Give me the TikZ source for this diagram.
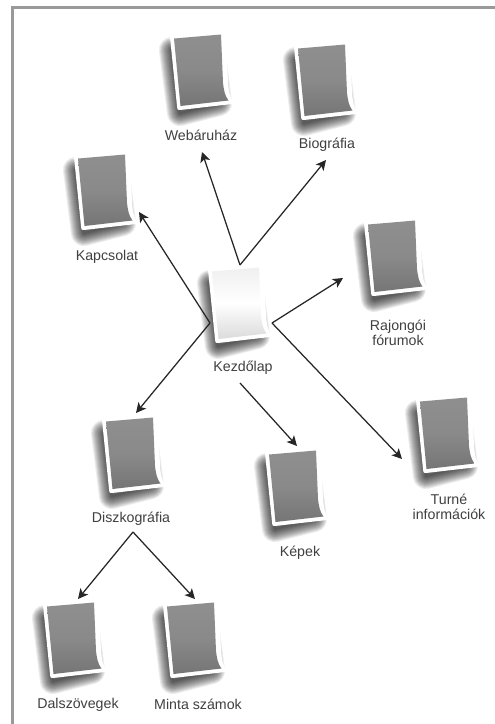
\documentclass[tikz,border=0pt]{standalone}
\usepackage{fontspec}
\setmainfont{Liberation Sans}
\usetikzlibrary{arrows.meta}
\definecolor{framegray}{HTML}{999999}
\definecolor{inkgray}{HTML}{404040}
\definecolor{linegray}{HTML}{262626}
\tikzset{
  x=1pt,y=-1pt,
  pagelabel/.style={font=\fontsize{14.2}{14.6}\selectfont,text=inkgray,align=center,inner sep=0pt},
  link/.style={draw=linegray,line width=1.25pt,-{Stealth[length=10pt,width=10pt,inset=2.5pt]}},
  pagebox/.style={minimum width=60pt,minimum height=76pt,inner sep=0pt},
}
\newcommand{\outerpath}{(1,0) -- (54,-4) .. controls (56,-4) and (56,-3) .. (56,-2) -- (58,48) .. controls (59,58) and (60,62) .. (63,67) .. controls (63.5,68) and (63,69) .. (62,69) -- (10,75) .. controls (8,75.3) and (7.4,74.5) .. (7.2,73) -- (0,2) .. controls (-0.2,0.5) and (0,0) .. (1,0) -- cycle}
\newcommand{\innerpath}{(4,3.5) -- (51,-0.5) -- (53,48) .. controls (54,56) and (55,61) .. (58.5,65.5) -- (10.5,71) -- cycle}
\newcommand{\pageshadow}[2]{%
  \begin{scope}[shift={(#1,#2)}]
    \foreach \w in {26,24,...,2}{
      \draw[black,draw opacity=0.075,line width=\w pt,line join=round]
        (4,13) -- (44,11) -- (51,66) -- (12,76) -- cycle;
    }
  \end{scope}}
\newcommand{\docpage}[3]{% name, x, y
  \pageshadow{#2-2}{#3+2}
  \begin{scope}[shift={(#2,#3)}]
    \fill[white] \outerpath;
    \shade[shading angle=200,top color=black!44,bottom color=black!54,middle color=black!46] \innerpath;
  \end{scope}
  \node[pagebox] (#1) at (#2+30,#3+36) {};}
\newcommand{\homepage}[3]{% name, x, y
  \pageshadow{#2-2}{#3+2}
  \begin{scope}[shift={(#2,#3)}]
    \fill[white] \outerpath;
    \shade[shading angle=190,top color=black!6,bottom color=black!14,middle color=white] \innerpath;
  \end{scope}
  \node[pagebox] (#1) at (#2+30,#3+36) {};}
\begin{document}
\begin{tikzpicture}
\useasboundingbox (0,0) rectangle (495,724);
\fill[white] (0,0) rectangle (495,724);
\draw[framegray,line width=3pt] (12.5,724) -- (12.5,7.5) -- (495,7.5);

\docpage{web}{170}{35}
\docpage{bio}{294}{45}
\docpage{kap}{74}{155}
\docpage{raj}{364}{221}
\docpage{tur}{416}{398}
\docpage{kep}{265}{451}
\docpage{dis}{102}{418}
\docpage{dal}{43}{603}
\docpage{min}{163}{603}
\homepage{home}{208}{268}

\node[pagelabel] (lweb) at (201,135) {Webáruház};
\node[pagelabel] (lbio) at (327,145) {Biográfia};
\node[pagelabel] (lkap) at (107,257) {Kapcsolat};
\node[pagelabel] (lraj) at (398,333) {Rajongói\\fórumok};
\node[pagelabel] (lhome) at (243,368) {Kezdőlap};
\node[pagelabel] (ltur) at (449,507) {Turné\\információk};
\node[pagelabel] (lkep) at (300,553) {Képek};
\node[pagelabel] (ldis) at (131,519) {Diszkográfia};
\node[pagelabel] (ldal) at (78,705) {Dalszövegek};
\node[pagelabel] (lmin) at (198,704) {Minta számok};

\coordinate (hubtop) at (240,265);
\coordinate (hubleft) at (210,323);
\coordinate (hubright) at (272,323);
\coordinate (hubdown) at (240,383);
\coordinate (hubdis) at (133,532);
\coordinate (tipweb) at (202,152);
\coordinate (tipbio) at (326,160);
\coordinate (tipkap) at (139,212);
\coordinate (tipdis) at (136,413);
\coordinate (tipraj) at (343,278);
\coordinate (tiptur) at (402,459);
\coordinate (tipkep) at (297,446);
\coordinate (tipdal) at (78,599);
\coordinate (tipmin) at (195,599);

\draw[link] (hubtop) -- (tipweb);
\draw[link] (hubtop) -- (tipbio);
\draw[link] (hubleft) -- (tipkap);
\draw[link] (hubleft) -- (tipdis);
\draw[link] (hubright) -- (tipraj);
\draw[link] (hubright) -- (tiptur);
\draw[link] (hubdown) -- (tipkep);
\draw[link] (hubdis) -- (tipdal);
\draw[link] (hubdis) -- (tipmin);
\end{tikzpicture}
\end{document}
